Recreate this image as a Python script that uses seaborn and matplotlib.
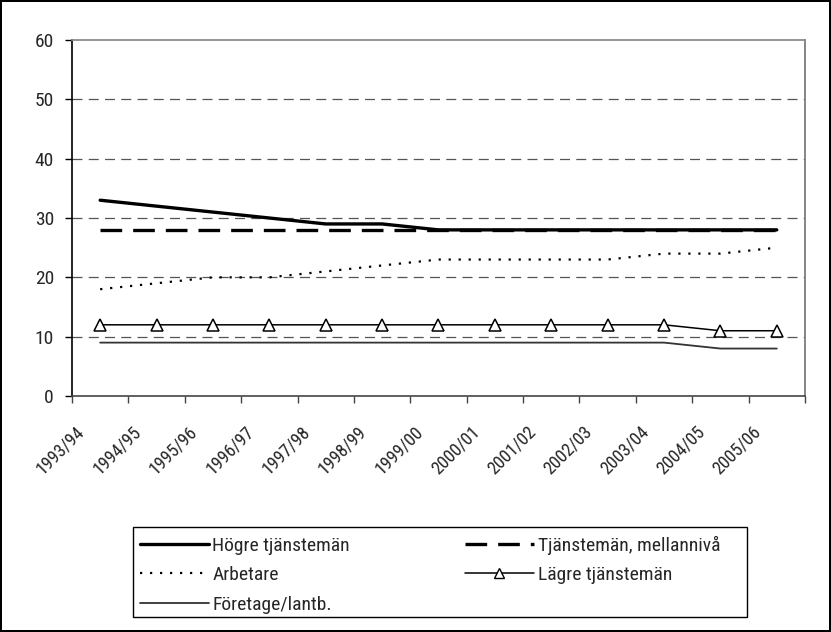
import numpy as np
import pandas as pd
import seaborn as sns
import matplotlib.pyplot as plt
from matplotlib import font_manager
from matplotlib.lines import Line2D
from matplotlib.patches import Rectangle
from matplotlib.transforms import ScaledTranslation

YEARS = ["1993/94", "1994/95", "1995/96", "1996/97", "1997/98", "1998/99", "1999/00",
         "2000/01", "2001/02", "2002/03", "2003/04", "2004/05", "2005/06"]

HOGRE = [33, 32, 31, 30, 29, 29, 28, 28, 28, 28, 28, 28, 28]
MELLAN = [28, 28, 28, 28, 28, 28, 28, 28, 28, 28, 28, 28, 28]
ARBETARE = [18, 19, 20, 20, 21, 22, 23, 23, 23, 23, 24, 24, 25]
LAGRE = [12, 12, 12, 12, 12, 12, 12, 12, 12, 12, 12, 11, 11]
FORETAGE = [9, 9, 9, 9, 9, 9, 9, 9, 9, 9, 9, 8, 8]

Y_TICKS = [0, 10, 20, 30, 40, 50, 60]

sns.set_theme(style="white")

# pick a condensed face if one is around, else DejaVu
installed = {f.name for f in font_manager.fontManager.ttflist}
narrow = [n for n in ["Roboto Condensed", "Liberation Sans Narrow", "Archivo Narrow",
                      "PT Sans Narrow", "Pragati Narrow", "Open Sans Condensed"] if n in installed]
plt.rcParams["font.family"] = narrow[:1] + ["DejaVu Sans"]
FS = 14 if narrow else 10
FS_X = 13 if narrow else 10

pos = np.arange(len(YEARS)) + 0.5
df = pd.DataFrame({"pos": pos, "hogre": HOGRE, "mellan": MELLAN, "arbetare": ARBETARE,
                   "lagre": LAGRE, "foretage": FORETAGE})

fig = plt.figure(figsize=(8.31, 6.32), dpi=100)
fig.patch.set_edgecolor("black")
fig.patch.set_linewidth(1.5)
ax = fig.add_axes([0.0866, 0.3734, 0.8821, 0.5633])

for y in Y_TICKS[1:-1]:
    ax.axhline(y, color="#555555", lw=0.9, ls=(0, (8, 5)), zorder=0)

sns.lineplot(data=df, x="pos", y="foretage", ax=ax, color="#333333", lw=1.3)
sns.lineplot(data=df, x="pos", y="lagre", ax=ax, color="black", lw=1.1,
             marker="^", markersize=8, markerfacecolor="white", markeredgecolor="black",
             markeredgewidth=1.1)
sns.lineplot(data=df, x="pos", y="arbetare", ax=ax, color="black", lw=1.6)
ax.lines[-1].set_dashes((1, 3.5))
sns.lineplot(data=df, x="pos", y="mellan", ax=ax, color="black", lw=2.4)
ax.lines[-1].set_dashes((6.5, 3.3))
sns.lineplot(data=df, x="pos", y="hogre", ax=ax, color="black", lw=2.4)

ax.set_xlim(0, len(YEARS))
ax.set_ylim(0, 60)
ax.set_yticks(Y_TICKS)
ax.set_yticklabels([str(v) for v in Y_TICKS], fontsize=FS)
ax.set_xticks(np.arange(len(YEARS) + 1))
ax.set_xticklabels([])
ax.set_xticks(pos, minor=True)
ax.set_xticklabels(YEARS, minor=True, rotation=45, ha="right", va="top", fontsize=FS_X)
ax.tick_params(axis="x", which="major", direction="out", length=5, width=1, color="#444444", bottom=True)
ax.tick_params(axis="x", which="minor", length=0, pad=19)
ax.tick_params(axis="y", direction="out", length=5, width=1, color="black", left=True, pad=8)
# Excel puts the rotated labels a bit left of the category centre
shift = ScaledTranslation(-0.12, 0, fig.dpi_scale_trans)
for lab in ax.xaxis.get_minorticklabels():
    lab.set_transform(lab.get_transform() + shift)
ax.set_xlabel("")
ax.set_ylabel("")

ax.spines["top"].set_color("#888888")
ax.spines["right"].set_color("#777777")
ax.spines["left"].set_color("black")
ax.spines["bottom"].set_color("#444444")
for s in ["left", "bottom"]:
    ax.spines[s].set_linewidth(1.2)

handles = [
    Line2D([], [], color="black", lw=2.4),
    Line2D([], [], color="black", lw=1.6, dashes=(1, 3.5)),
    Line2D([], [], color="#333333", lw=1.3),
    Line2D([], [], color="black", lw=2.4, dashes=(6.5, 3.3)),
    Line2D([], [], color="black", lw=1.1, marker="^", markersize=7,
           markerfacecolor="white", markeredgecolor="black"),
]
labels = ["Högre tjänstemän", "Arbetare", "Företage/lantb.",
          "Tjänstemän, mellannivå", "Lägre tjänstemän"]
fig.legend(handles, labels, loc="upper left", bbox_to_anchor=(0.1586, 0.165),
           ncol=2, fontsize=FS, frameon=False, handlelength=3.55, handletextpad=0.2,
           columnspacing=5.9, borderpad=0.4, labelspacing=0.6, borderaxespad=0)
# legend frame as in the original (wider than its content)
fig.add_artist(Rectangle((133 / 831, 1 - 617 / 632), (747 - 133) / 831, 90 / 632,
                         transform=fig.transFigure, fill=False, edgecolor="black", lw=1.0))

fig.savefig("out.png", dpi=100, edgecolor=fig.get_edgecolor())
